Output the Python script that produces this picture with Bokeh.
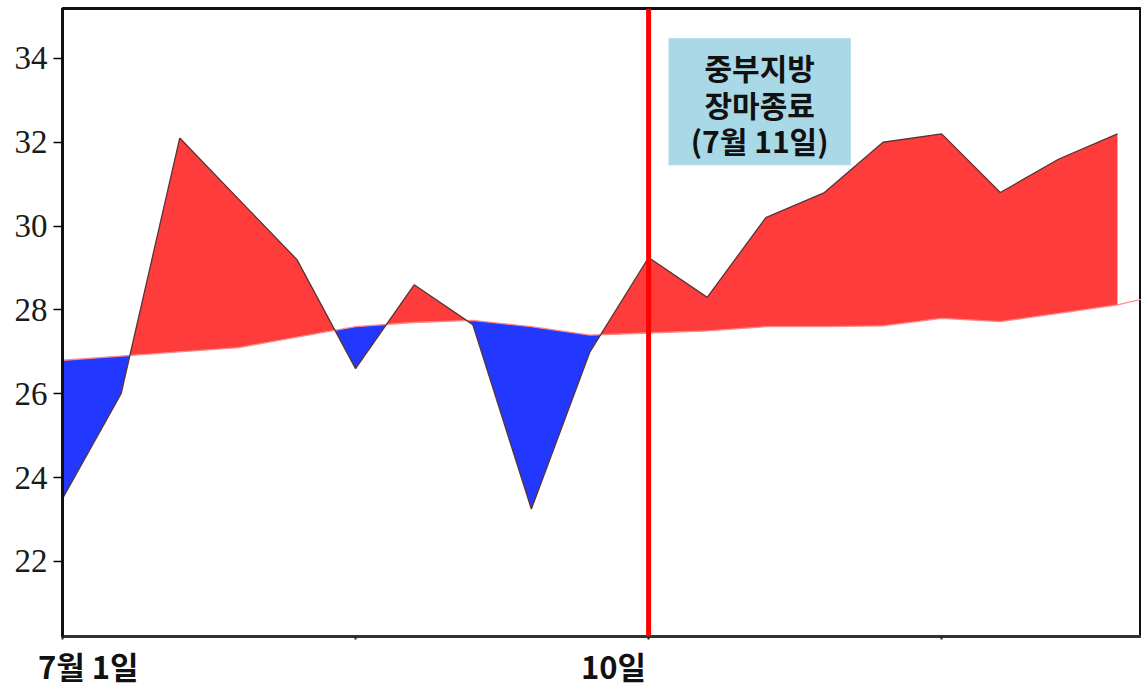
import numpy as np
from bokeh.plotting import figure
from bokeh.models import Range1d, FixedTicker, Span, BoxAnnotation, Label, LinearAxis
from bokeh.embed import file_html
from bokeh.resources import INLINE

# ---- data (daily mean temperature, July; index 0 = 7월 1일) ----
days_obs = list(range(19))
observed = [23.5, 26.0, 32.1, 30.65, 29.2, 26.6, 28.6, 27.65, 23.25, 27.0,
            29.25, 28.3, 30.2, 30.8, 32.0, 32.2, 30.8, 31.6, 32.2]
days_norm = list(range(20))
normal = [26.8, 26.9, 27.0, 27.1, 27.35, 27.6, 27.7, 27.75, 27.6, 27.4,
          27.45, 27.5, 27.6, 27.6, 27.62, 27.8, 27.72, 27.92, 28.12, 28.45]
y_ticks = [22, 24, 26, 28, 30, 32, 34]
x_ticks = [0, 5, 10, 15]
end_day = 10
end_text = ["중부지방", "장마종료", "(7월 11일)"]
# date labels and where they are written (slightly off their ticks, as in the source)
date_label_pos = [0.44, 9.4]
date_label_txt = ["7월 1일", "10일"]

# ---- build exact fill polygons (insert crossing points) ----
xo = np.array(days_obs, float)
yo = np.array(observed, float)
yn = np.interp(xo, np.array(days_norm, float), np.array(normal, float))
xs, ys_o, ys_n = [], [], []
for i in range(len(xo)):
    xs.append(xo[i]); ys_o.append(yo[i]); ys_n.append(yn[i])
    if i < len(xo) - 1:
        d0 = yo[i] - yn[i]
        d1 = yo[i + 1] - yn[i + 1]
        if d0 * d1 < 0:
            t = d0 / (d0 - d1)
            xc = xo[i] + t * (xo[i + 1] - xo[i])
            yc = yn[i] + t * (yn[i + 1] - yn[i])
            xs.append(xc); ys_o.append(yc); ys_n.append(yc)
xs = np.array(xs); ys_o = np.array(ys_o); ys_n = np.array(ys_n)

p = figure(width=1141, height=690, output_backend="svg", toolbar_location=None,
           x_range=Range1d(0, 18.41), y_range=Range1d(20.21, 35.19),
           x_axis_location=None,
           min_border_left=62, min_border_right=0, min_border_top=8,
           min_border_bottom=0)
p.background_fill_color = "white"
p.border_fill_color = "white"
p.grid.visible = False
p.outline_line_color = "#111111"
p.outline_line_width = 3

# fills
p.varea(x=xs, y1=ys_n, y2=np.maximum(ys_o, ys_n), fill_color="#ff3c3c")
p.varea(x=xs, y1=ys_n, y2=np.minimum(ys_o, ys_n), fill_color="#2238ff")
# normal line
p.line(days_norm, normal, line_color="#ff8a8a", line_width=1.3)
# observed line
p.line(days_obs, observed, line_color="#5a3434", line_width=1.3)

# monsoon end line
p.add_layout(Span(location=end_day, dimension="height", line_color="#ff0000",
                  line_width=5))

# annotation box
bx0, bx1, by0, by1 = 10.34, 13.45, 31.45, 34.48
p.add_layout(BoxAnnotation(left=bx0, right=bx1, bottom=by0, top=by1,
                           fill_color="#a9d8e6", fill_alpha=1.0, line_color=None))
cx = (bx0 + bx1) / 2
for k, t in enumerate(end_text):
    p.add_layout(Label(x=cx, y=by1, y_offset=-29 - 36.5 * k, text=t,
                       text_align="center", text_baseline="middle",
                       text_font="Noto Sans CJK KR", text_font_style="bold",
                       text_font_size="30px", text_color="#111111"))

# y axis
p.yaxis.ticker = FixedTicker(ticks=y_ticks)
p.yaxis.axis_line_width = 3
p.yaxis.axis_line_color = "#111111"
p.yaxis.major_tick_in = 0
p.yaxis.major_tick_out = 9
p.yaxis.major_tick_line_width = 1.5
p.yaxis.minor_tick_line_color = None
p.yaxis.major_label_text_font = "Liberation Serif"
p.yaxis.major_label_text_font_size = "33px"
p.yaxis.major_label_text_color = "#1a1a1a"
p.yaxis.major_label_standoff = 6

# x axis: small ticks at x_ticks (as minor ticks), date labels as major labels
xa = LinearAxis(ticker=FixedTicker(ticks=date_label_pos, minor_ticks=x_ticks),
                major_label_overrides={v: t for v, t in zip(date_label_pos, date_label_txt)})
xa.axis_line_width = 3
xa.axis_line_color = "#333333"
xa.major_tick_line_color = None
xa.minor_tick_in = 0
xa.minor_tick_out = 3
xa.minor_tick_line_width = 2
xa.minor_tick_line_color = "#222222"
xa.major_label_text_font = "Noto Sans CJK KR"
xa.major_label_text_font_style = "bold"
xa.major_label_text_font_size = "31px"
xa.major_label_text_color = "#111111"
xa.major_label_standoff = 0
p.add_layout(xa, "below")

open("out.html", "w").write(file_html(p, INLINE))
